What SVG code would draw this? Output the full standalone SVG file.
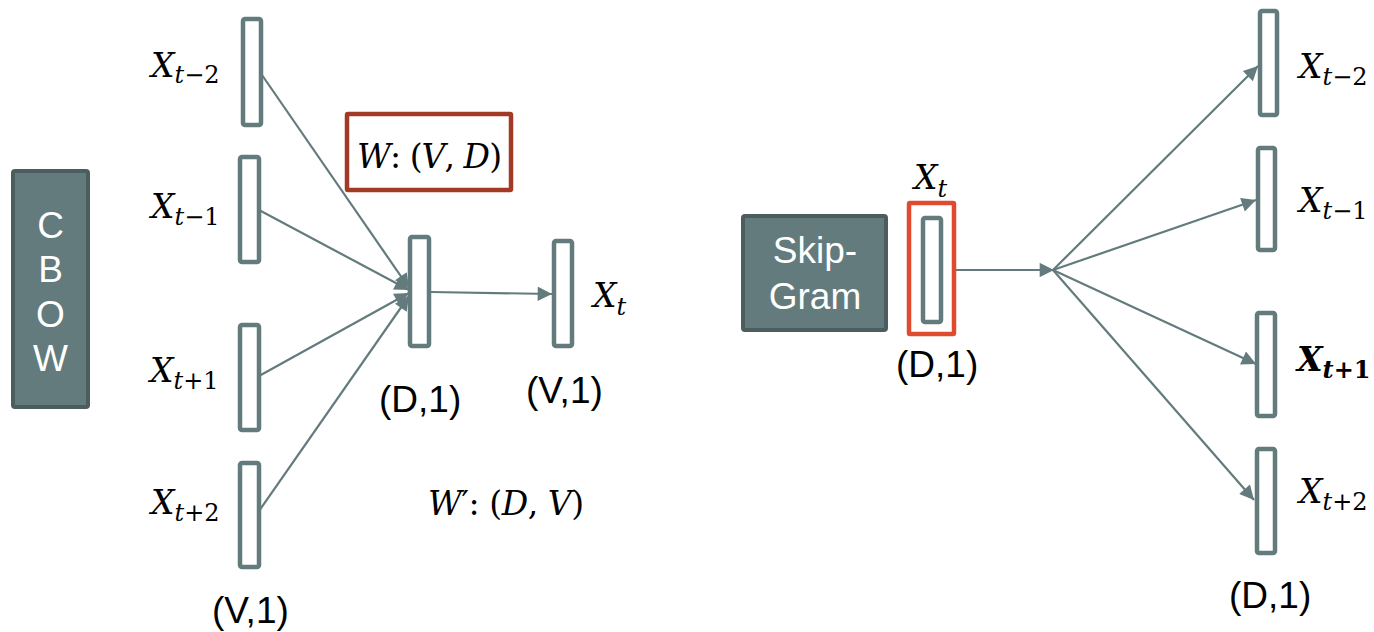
<svg xmlns="http://www.w3.org/2000/svg" width="1374" height="632" viewBox="0 0 1374 632">
<defs>
<marker id="ah" viewBox="0 0 10 10" refX="10" refY="5" markerWidth="7.5" markerHeight="6.5" markerUnits="strokeWidth" orient="auto">
<path d="M0,0 L10,5 L0,10 z" fill="#637B7D"/>
</marker>
<style>
.vec{fill:#fff;stroke:#637B7D;stroke-width:4.5}
.lbl{fill:#000;font-family:"Liberation Sans",Arial,sans-serif;font-size:37px}
.m{fill:#000;font-family:"DejaVu Serif","Liberation Serif",serif;font-size:33px}
.it{font-style:italic}
.sb{font-size:24px}
.side{fill:#637B7D;stroke:#4C5D60;stroke-width:4}
.side-t{fill:#fff;font-family:"Liberation Sans",Arial,sans-serif;font-size:37px;text-anchor:middle}
.cn{fill:none;stroke:#637B7D;stroke-width:2.2;marker-end:url(#ah)}
</style>
</defs>
<rect width="1374" height="632" fill="#fff"/>

<g id="cbow">
<rect class="side" x="13" y="171" width="75" height="236" rx="2"/>
<text class="side-t" x="50.5" y="238">C</text>
<text class="side-t" x="50.5" y="282">B</text>
<text class="side-t" x="50.5" y="327">O</text>
<text class="side-t" x="50.5" y="371">W</text>
</g>

<g id="connectors">
<line class="cn" x1="262" y1="75" x2="409" y2="288"/>
<line class="cn" x1="259" y1="210" x2="409" y2="290"/>
<line class="cn" x1="259" y1="376" x2="409" y2="293"/>
<line class="cn" x1="259" y1="511" x2="409" y2="296"/>
<line class="cn" x1="431" y1="292" x2="552" y2="294"/>
<line class="cn" x1="943" y1="270" x2="1054" y2="270"/>
<line class="cn" x1="1053" y1="270" x2="1258" y2="66"/>
<line class="cn" x1="1053" y1="270" x2="1256" y2="200"/>
<line class="cn" x1="1053" y1="270" x2="1256" y2="364"/>
<line class="cn" x1="1053" y1="270" x2="1254" y2="500"/>
</g>

<g id="in-t-2">
<rect class="vec" x="243" y="19" width="18" height="106" rx="2"/>
<text class="m" x="151" y="77"><tspan class="it">X</tspan><tspan class="sb" dy="6"><tspan class="it">t</tspan>−2</tspan></text>
</g>
<g id="in-t-1">
<rect class="vec" x="240" y="157" width="19" height="105" rx="2"/>
<text class="m" x="151" y="218"><tspan class="it">X</tspan><tspan class="sb" dy="7"><tspan class="it">t</tspan>−1</tspan></text>
</g>
<g id="in-t+1">
<rect class="vec" x="240" y="325" width="19" height="105" rx="2"/>
<text class="m" x="150" y="382"><tspan class="it">X</tspan><tspan class="sb" dy="7"><tspan class="it">t</tspan>+1</tspan></text>
</g>
<g id="in-t+2">
<rect class="vec" x="240" y="463" width="19" height="104" rx="2"/>
<text class="m" x="151" y="514"><tspan class="it">X</tspan><tspan class="sb" dy="7"><tspan class="it">t</tspan>+2</tspan></text>
<text class="lbl" x="212" y="623">(V,1)</text>
</g>

<g id="w-box">
<rect x="347" y="114" width="164" height="76" fill="#fff" stroke="#A33A26" stroke-width="4.5" rx="1"/>
<text class="m" x="357" y="168" textLength="145" lengthAdjust="spacing"><tspan class="it">W</tspan>: (<tspan class="it">V</tspan>, <tspan class="it">D</tspan>)</text>
</g>

<g id="hidden">
<rect class="vec" x="410" y="237" width="19" height="109" rx="2"/>
<text class="lbl" x="379" y="412">(D,1)</text>
</g>

<g id="output">
<rect class="vec" x="554" y="241" width="18" height="105" rx="2"/>
<text class="m" x="593" y="307"><tspan class="it">X</tspan><tspan class="sb it" dy="8">t</tspan></text>
<text class="lbl" x="526" y="403">(V,1)</text>
</g>

<g id="w-prime">
<text class="m" x="428" y="515" textLength="156" lengthAdjust="spacing"><tspan class="it">W</tspan>′: (<tspan class="it">D</tspan>, <tspan class="it">V</tspan>)</text>
</g>

<g id="skipgram">
<rect class="side" x="743" y="216" width="143" height="114" rx="2"/>
<text class="side-t" x="815" y="263">Skip-</text>
<text class="side-t" x="815" y="309">Gram</text>
</g>

<g id="center">
<rect x="909" y="203" width="45" height="131" fill="#fff" stroke="#E04B2F" stroke-width="4.5" rx="1"/>
<rect class="vec" x="923" y="218" width="18" height="104" rx="2"/>
<text class="m" x="914" y="189"><tspan class="it">X</tspan><tspan class="sb it" dy="8">t</tspan></text>
<text class="lbl" x="896" y="377">(D,1)</text>
</g>

<g id="out-t-2">
<rect class="vec" x="1260" y="11" width="17" height="104" rx="2"/>
<text class="m" x="1299" y="78"><tspan class="it">X</tspan><tspan class="sb" dy="7"><tspan class="it">t</tspan>−2</tspan></text>
</g>
<g id="out-t-1">
<rect class="vec" x="1258" y="148" width="17" height="102" rx="2"/>
<text class="m" x="1299" y="212"><tspan class="it">X</tspan><tspan class="sb" dy="7"><tspan class="it">t</tspan>−1</tspan></text>
</g>
<g id="out-t+1">
<rect class="vec" x="1257" y="313" width="18" height="103" rx="2"/>
<text class="m" x="1297" y="371" font-weight="bold"><tspan class="it">X</tspan><tspan class="sb" dy="7"><tspan class="it">t</tspan>+1</tspan></text>
</g>
<g id="out-t+2">
<rect class="vec" x="1257" y="449" width="18" height="104" rx="2"/>
<text class="m" x="1299" y="503"><tspan class="it">X</tspan><tspan class="sb" dy="7"><tspan class="it">t</tspan>+2</tspan></text>
<text class="lbl" x="1229" y="608">(D,1)</text>
</g>
</svg>
